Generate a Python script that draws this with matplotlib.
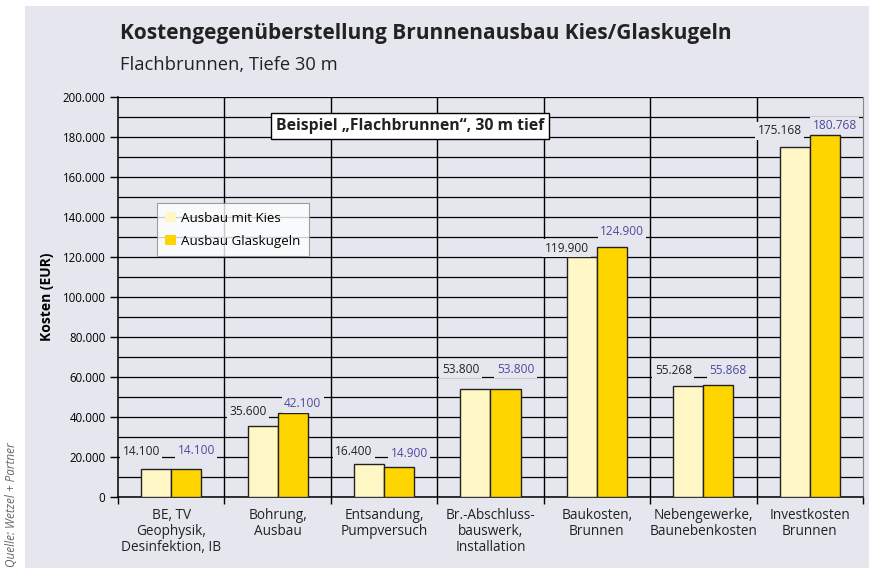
import matplotlib
matplotlib.use("Agg")
import matplotlib.pyplot as plt
from matplotlib.patches import Rectangle, Patch
from matplotlib.ticker import MultipleLocator, FixedLocator, FuncFormatter

plt.rcParams['font.family'] = ['Open Sans', 'DejaVu Sans']

categories = ["BE, TV\nGeophysik,\nDesinfektion, IB", "Bohrung,\nAusbau",
              "Entsandung,\nPumpversuch", "Br.-Abschluss-\nbauswerk,\nInstallation",
              "Baukosten,\nBrunnen", "Nebengewerke,\nBaunebenkosten", "Investkosten\nBrunnen"]
kies = [14100, 35600, 16400, 53800, 119900, 55268, 175168]
glas = [14100, 42100, 14900, 53800, 124900, 55868, 180768]
kies_labels = ["14.100", "35.600", "16.400", "53.800", "119.900", "55.268", "175.168"]
glas_labels = ["14.100", "42.100", "14.900", "53.800", "124.900", "55.868", "180.768"]
series_names = ["Ausbau mit Kies", "Ausbau Glaskugeln"]

# label offsets above bar tops (pixels)
kies_dy = [17, 14, 13, 20, 9, 16, 16]
glas_dy = [18, 9, 14, 20, 16, 15, 10]

PANEL = "#e6e7ee"
KIES_C = "#fff8c6"
GLAS_C = "#ffd500"
BLUE = "#4a4a9e"

W, H = 869, 568
fig = plt.figure(figsize=(W/100, H/100), dpi=100)
fig.patch.set_facecolor("white")
bg = Rectangle((25/W, 0), 1 - 25/W, (H-6)/H, transform=fig.transFigure,
               facecolor=PANEL, edgecolor="none", zorder=-10)
fig.patches.append(bg)

ax = fig.add_axes([118/W, (H-497)/H, (863-118)/W, 400/H])
ax.set_zorder(1)
ax.set_facecolor(PANEL)

x = list(range(len(categories)))
bw = 0.282
ax.bar([i - bw/2 for i in x], kies, width=bw, color=KIES_C, edgecolor="#222222", linewidth=1.0, zorder=3)
ax.bar([i + bw/2 for i in x], glas, width=bw, color=GLAS_C, edgecolor="#222222", linewidth=1.0, zorder=3)

ax.set_xlim(-0.5, len(categories) - 0.5)
ax.set_ylim(0, 200000)

ax.yaxis.set_major_locator(MultipleLocator(20000))
ax.yaxis.set_minor_locator(MultipleLocator(10000))
ax.yaxis.set_major_formatter(FuncFormatter(lambda v, p: "0" if v == 0 else f"{int(v):,}".replace(",", ".")))
ax.grid(True, axis="y", which="both", color="black", linewidth=0.9, zorder=1)
ax.tick_params(axis="y", which="major", length=6, width=1, labelsize=8.3, colors="black", pad=3)
ax.tick_params(axis="y", which="minor", length=0)

ax.xaxis.set_major_locator(FixedLocator([i - 0.5 for i in range(len(categories) + 1)]))
ax.xaxis.set_major_formatter(FuncFormatter(lambda v, p: ""))
ax.set_xticks(x, minor=True)
ax.set_xticklabels(categories, minor=True, fontsize=9.8, color="#222222", linespacing=1.1)
ax.tick_params(axis="x", which="major", length=5, width=1)
ax.tick_params(axis="x", which="minor", length=0, pad=8)
for i in range(1, len(categories)):
    ax.axvline(i - 0.5, color="black", linewidth=1.0, zorder=1)

ax.spines["top"].set_visible(False)
ax.spines["right"].set_color("#888888")
ax.spines["right"].set_linewidth(0.8)
ax.spines["left"].set_linewidth(1.1)
ax.spines["bottom"].set_linewidth(1.1)

ax.set_ylabel("Kosten (EUR)", fontsize=10, fontweight="bold", labelpad=6)

bbox = dict(boxstyle="square,pad=0.2", facecolor=PANEL, edgecolor="none")
for i in x:
    ax.annotate(kies_labels[i], xy=(i - bw/2, kies[i]), xytext=(-15*0.72, kies_dy[i]*0.72),
                textcoords="offset points", ha="center", va="center", fontsize=8.6,
                color="#222222", bbox=bbox, zorder=4)
    ax.annotate(glas_labels[i], xy=(i + bw/2, glas[i]), xytext=(10*0.72, glas_dy[i]*0.72),
                textcoords="offset points", ha="center", va="center", fontsize=8.6,
                color=BLUE, bbox=bbox, zorder=4)

handles = [Patch(facecolor=KIES_C, edgecolor="none", label=series_names[0]),
           Patch(facecolor=GLAS_C, edgecolor="none", label=series_names[1])]
leg = ax.legend(handles=handles, loc="upper left", bbox_to_anchor=(0.052, 0.735),
                fontsize=9.6, frameon=True, fancybox=False, handlelength=0.8, handleheight=0.8,
                handletextpad=0.4, borderpad=0.65, labelspacing=0.75, borderaxespad=0)
leg.get_frame().set_facecolor("white")
leg.get_frame().set_edgecolor("#888888")
leg.get_frame().set_linewidth(0.8)
leg.set_zorder(5)

ax.text(0.392, 0.9275, "Beispiel \u201eFlachbrunnen\u201c, 30 m tief", transform=ax.transAxes,
        ha="center", va="center", fontsize=11.3, fontweight="bold", color="#222222", zorder=6,
        bbox=dict(boxstyle="square,pad=0.3", facecolor="white", edgecolor="black", linewidth=1.0))

fig.text(120/W, 1 - 33/H, "Kostengegenüberstellung Brunnenausbau Kies/Glaskugeln",
         fontsize=15, fontweight="bold", color="#222222", ha="left", va="center")
fig.text(120/W, 1 - 65/H, "Flachbrunnen, Tiefe 30 m", fontsize=13.2, color="#222222",
         ha="left", va="center")

fig.text(12/W, 0.002, "Quelle: Wetzel + Partner", rotation=90, fontsize=8.5, style="italic",
         color="#666666", ha="center", va="bottom")

fig.savefig("out.png", dpi=100, facecolor="white")
